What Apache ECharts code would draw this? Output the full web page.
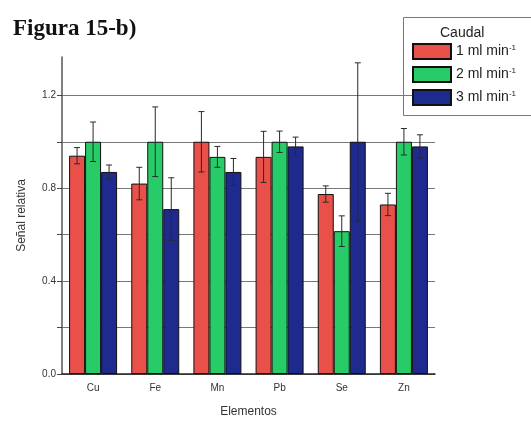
<!DOCTYPE html>
<html>
<head>
<meta charset="utf-8">
<script src="https://cdn.jsdelivr.net/npm/echarts@6/dist/echarts.min.js"></script>
<style>
  html, body { margin: 0; padding: 0; background: #fff; }
  #chart { width: 531px; height: 426px; }
</style>
</head>
<body>
<div id="chart"></div>
<script>
var categories = ['Cu', 'Fe', 'Mn', 'Pb', 'Se', 'Zn'];
var seriesNames = ['1 ml min', '2 ml min', '3 ml min'];
// señal relativa por caudal
var flow1 = [0.94, 0.82, 1.0, 0.935, 0.775, 0.73];
var flow2 = [1.0, 1.0, 0.935, 1.0, 0.615, 1.0];
var flow3 = [0.87, 0.71, 0.87, 0.98, 1.0, 0.98];
// barras de error (+/-)
var err1 = [0.035, 0.07, 0.13, 0.11, 0.035, 0.048];
var err2 = [0.085, 0.15, 0.045, 0.046, 0.066, 0.057];
var err3 = [0.03, 0.135, 0.058, 0.04, 0.34, 0.05];
var yTicks = [0, 0.4, 0.8, 1.2];

var colors = ['#e9504a', '#27cc68', '#1f2a8f'];
var values = [flow1, flow2, flow3];
var errors = [err1, err2, err3];
var barW = 16;

var dom = document.getElementById('chart');
var myChart = echarts.init(dom);

var series = [];
for (var s = 0; s < 3; s++) {
    series.push({
        name: seriesNames[s],
        type: 'bar',
        data: values[s],
        barWidth: barW,
        barGap: '0%',
        itemStyle: { color: colors[s], borderColor: '#111', borderWidth: 1 }
    });
}
// barras de error
for (var k = 0; k < 3; k++) {
    (function (idx) {
        var errData = categories.map(function (c, i) {
            return [i, values[idx][i] - errors[idx][i], values[idx][i] + errors[idx][i]];
        });
        series.push({
            type: 'custom',
            name: 'err' + idx,
            z: 5,
            renderItem: function (params, api) {
                var lo = api.coord([api.value(0), api.value(1)]);
                var hi = api.coord([api.value(0), api.value(2)]);
                var x = lo[0] + (idx - 1) * barW;
                var cap = 3;
                var st = { stroke: '#2a2a2a', lineWidth: 1 };
                return {
                    type: 'group',
                    children: [
                        { type: 'line', shape: { x1: x, y1: lo[1], x2: x, y2: hi[1] }, style: st },
                        { type: 'line', shape: { x1: x - cap, y1: hi[1], x2: x + cap, y2: hi[1] }, style: st },
                        { type: 'line', shape: { x1: x - cap, y1: lo[1], x2: x + cap, y2: lo[1] }, style: st }
                    ]
                };
            },
            encode: { x: 0, y: [1, 2] },
            data: errData
        });
    })(k);
}

var option = {
    backgroundColor: '#fff',
    animation: false,
    title: {
        text: '{b|Figura 15-b}{r|)}',
        left: 8,
        top: 13,
        textStyle: {
            rich: {
                b: { fontFamily: 'Liberation Serif', fontWeight: 'bold', fontSize: 23, color: '#111' },
                r: { fontFamily: 'Liberation Serif', fontSize: 23, color: '#111' }
            }
        }
    },
    grid: { left: 62, right: 96, top: 57, bottom: 52 },
    legend: {
        data: seriesNames,
        orient: 'vertical',
        left: 407,
        top: 38,
        itemWidth: 38,
        itemHeight: 15,
        itemGap: 6,
        icon: 'rect',
        formatter: function (name) { return '{a|' + name + '}{s|-1}'; },
        textStyle: {
            rich: {
                a: { fontFamily: 'Liberation Sans', fontSize: 14, color: '#222' },
                s: { fontFamily: 'Liberation Sans', fontSize: 8, color: '#222', verticalAlign: 'top', padding: [0, 0, 8, 0] }
            }
        }
    },
    graphic: [
        {
            type: 'rect',
            left: 403, top: 17,
            shape: { width: 140, height: 98 },
            style: { fill: '#fff', stroke: '#777', lineWidth: 1 },
            z: -1, zlevel: 0
        },
        {
            type: 'text',
            left: 440, top: 26,
            style: { text: 'Caudal', fontFamily: 'Liberation Sans', fontSize: 14, fill: '#222' }
        }
    ],
    xAxis: {
        type: 'category',
        data: categories,
        name: 'Elementos',
        nameLocation: 'middle',
        nameGap: 32,
        nameTextStyle: { fontFamily: 'Liberation Sans', fontSize: 12, color: '#333' },
        axisLine: { lineStyle: { color: '#222', width: 1.5 } },
        axisTick: { alignWithLabel: true, length: 5, lineStyle: { color: '#333' } },
        axisLabel: { fontFamily: 'Liberation Sans', fontSize: 10, color: '#333', margin: 9 }
    },
    yAxis: {
        type: 'value',
        min: 0,
        max: 1.365,
        interval: 0.2,
        name: 'Señal relativa',
        nameLocation: 'middle',
        nameGap: 34,
        nameTextStyle: { fontFamily: 'Liberation Sans', fontSize: 12, color: '#333' },
        axisLine: { show: true, lineStyle: { color: '#555', width: 1.5 } },
        axisTick: { show: true, length: 5, lineStyle: { color: '#444' } },
        axisLabel: {
            fontFamily: 'Liberation Sans', fontSize: 10, color: '#333', margin: 6,
            showMaxLabel: false,
            formatter: function (v) {
                for (var i = 0; i < yTicks.length; i++) {
                    if (Math.abs(v - yTicks[i]) < 1e-6) return v.toFixed(1);
                }
                return '';
            }
        },
        splitLine: { show: true, showMaxLine: false, lineStyle: { color: '#777', width: 1 } }
    },
    series: series
};

myChart.setOption(option);
window.onresize = function () { myChart.resize(); };
</script>
</body>
</html>
